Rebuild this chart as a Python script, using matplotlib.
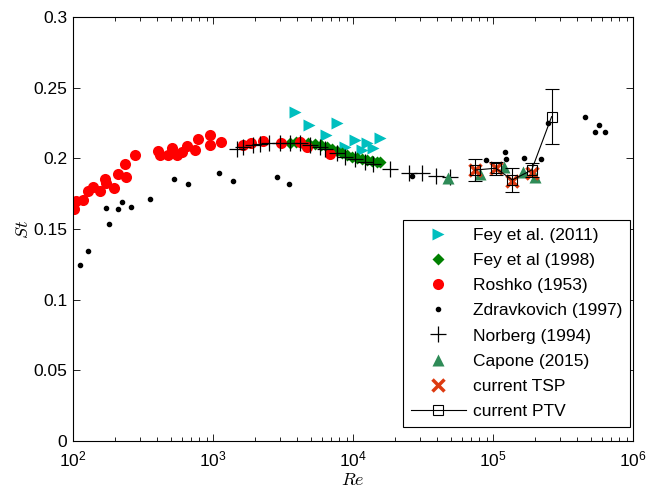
import numpy as np
import matplotlib.pyplot as plt
from matplotlib.lines import Line2D
from matplotlib.ticker import FixedLocator, FuncFormatter, LogLocator, NullFormatter

plt.rcParams['font.family'] = ['Liberation Sans', 'DejaVu Sans']
plt.rcParams['mathtext.fontset'] = 'cm'
plt.rcParams['font.size'] = 12.5

# Fey et al. (2011)
fey11_re = [3853, 4850, 7650, 6385, 8770, 10330, 12530, 15600, 11530, 13970]
fey11_st = [0.2326, 0.2236, 0.2248, 0.2165, 0.2082, 0.213, 0.2106, 0.2142, 0.2059, 0.2071]

# Fey et al (1998)
fey98_re = [3548, 3944, 4355, 4809, 5310, 5864, 6475, 7040, 7653, 8320, 9045,
            9830, 10690, 11620, 12630, 13730, 14930, 15600]
fey98_st = [0.2108, 0.2112, 0.2108, 0.2108, 0.2101, 0.2094, 0.208, 0.2066, 0.2052,
            0.2038, 0.2024, 0.2009, 0.2002, 0.1995, 0.1988, 0.1981, 0.1974, 0.1974]

# Roshko (1953)
roshko_re = [101.7, 104.5, 118.5, 128.6, 139, 155, 169, 171, 197.6, 210.6, 235, 238, 278,
             406, 418, 480, 507, 550, 598, 656, 744, 786, 952, 952, 1141,
             1645, 1857, 2279, 3038, 4174, 4706, 6838]
roshko_st = [0.164, 0.1698, 0.1705, 0.177, 0.180, 0.177, 0.1856, 0.1823, 0.1792, 0.1887,
             0.1958, 0.1866, 0.2024,
             0.2054, 0.2024, 0.2024, 0.2071, 0.2024, 0.2047, 0.2089, 0.2059, 0.2135,
             0.2165, 0.2094, 0.2113,
             0.2094, 0.2106, 0.2125, 0.2106, 0.2113, 0.2082, 0.2031]

# Zdravkovich (1997)
zdr_re = [111.6, 127.4, 173, 180, 209.6, 224, 259.6, 353, 524, 659, 1098, 1389,
          2865, 3508, 26380, 89500, 122400, 124500, 165600, 221300, 247000,
          456500, 574000, 532000, 628000]
zdr_st = [0.1243, 0.1344, 0.1649, 0.1533, 0.1639, 0.1691, 0.1653, 0.1712, 0.1854,
          0.1816, 0.1898, 0.184, 0.1866, 0.1816, 0.1875, 0.1988, 0.2045, 0.1995,
          0.2, 0.1993, 0.225, 0.229, 0.2238, 0.2186, 0.2186]

# Norberg (1994)
norberg_re = [1476, 1645, 1922, 2170, 2528, 3020, 3563, 4200, 4952, 5840, 6340,
              7650, 8800, 10360, 12210, 13990, 18480, 24980, 31150, 38950, 49130]
norberg_st = [0.2064, 0.2078, 0.2094, 0.2101, 0.2111, 0.2108, 0.2106, 0.2105, 0.2094,
              0.2082, 0.2063, 0.2036, 0.2012, 0.1993, 0.1976, 0.196, 0.1922, 0.1898,
              0.1898, 0.1875, 0.187]

# Capone (2015)
capone_re = [47970, 80700, 119900, 164400, 199500]
capone_st = [0.1859, 0.1887, 0.1939, 0.1905, 0.187]

# current TSP
tsp_re = [74300, 105000, 137400, 188800]
tsp_st = [0.1917, 0.193, 0.1843, 0.1894]

# current PTV
ptv_re = [74300, 104500, 137400, 188800, 262300]
ptv_st = [0.1917, 0.193, 0.1847, 0.1917, 0.2295]
ptv_err = [0.0077, 0.0045, 0.0086, 0.0047, 0.0195]

fig = plt.figure(figsize=(6.54, 4.88), dpi=100)
ax = fig.add_axes([0.1116, 0.0963, 0.8563, 0.8689])

ax.plot(fey11_re, fey11_st, '>', color=(0, 0.75, 0.75), ms=8, mec='none',
        label='Fey et al. (2011)')
ax.plot(fey98_re, fey98_st, 'D', color=(0, 0.5, 0), ms=6.5, mec='none',
        label='Fey et al (1998)')
ax.plot(roshko_re, roshko_st, 'o', color='r', ms=8, mec='none', label='Roshko (1953)')
ax.plot(zdr_re, zdr_st, '.', color='k', ms=6, label='Zdravkovich (1997)')
ax.plot(norberg_re, norberg_st, '+', color='k', ms=11, mew=0.9, label='Norberg (1994)')
ax.plot(capone_re, capone_st, '^', color='#2E8B57', ms=8, mec='none', label='Capone (2015)')
ax.plot(tsp_re, tsp_st, 'x', color='#DD3A10', ms=8, mew=2.5, label='current TSP')
ax.errorbar(ptv_re, ptv_st, yerr=ptv_err, fmt='-s', color='k', lw=0.8, ms=6.5,
            mfc='none', mew=0.8, elinewidth=0.8, capsize=5, capthick=0.8)

ax.set_xscale('log')
ax.set_xlim(1e2, 1e6)
ax.set_ylim(0, 0.3)
ax.yaxis.set_major_locator(FixedLocator([0, 0.05, 0.1, 0.15, 0.2, 0.25, 0.3]))
ax.yaxis.set_major_formatter(FuncFormatter(lambda v, p: '%g' % v))
ax.xaxis.set_major_locator(FixedLocator([1e2, 1e3, 1e4, 1e5, 1e6]))
ax.xaxis.set_major_formatter(FuncFormatter(
    lambda v, p: r'$\mathregular{10^{%d}}$' % round(np.log10(v))))
ax.xaxis.set_minor_locator(LogLocator(base=10, subs=np.arange(2, 10)))
ax.xaxis.set_minor_formatter(NullFormatter())
ax.tick_params(which='both', direction='in', top=True, right=True, labelsize=12.5)
ax.tick_params(which='major', length=5, width=0.6)
ax.tick_params(which='minor', length=3, width=0.6)
ax.tick_params(axis='x', pad=6)
ax.tick_params(axis='y', pad=4)
for s in ax.spines.values():
    s.set_linewidth(0.8)

ax.set_xlabel('$Re$', fontsize=13, labelpad=2)
ax.set_ylabel('$St$', fontsize=13, labelpad=1)

handles, labels = ax.get_legend_handles_labels()
handles.append(Line2D([], [], color='k', lw=0.8, marker='s', ms=6.5, mfc='none', mew=0.8))
labels.append('current PTV')
leg = ax.legend(handles, labels, loc='lower right', bbox_to_anchor=(0.995, 0.033),
                fontsize=12.5, handlelength=3.2, labelspacing=0.58, borderpad=0.45,
                handletextpad=0.4, borderaxespad=0, fancybox=False, edgecolor='k',
                framealpha=1)
leg.get_frame().set_linewidth(0.8)

fig.savefig('out.png', dpi=100)
